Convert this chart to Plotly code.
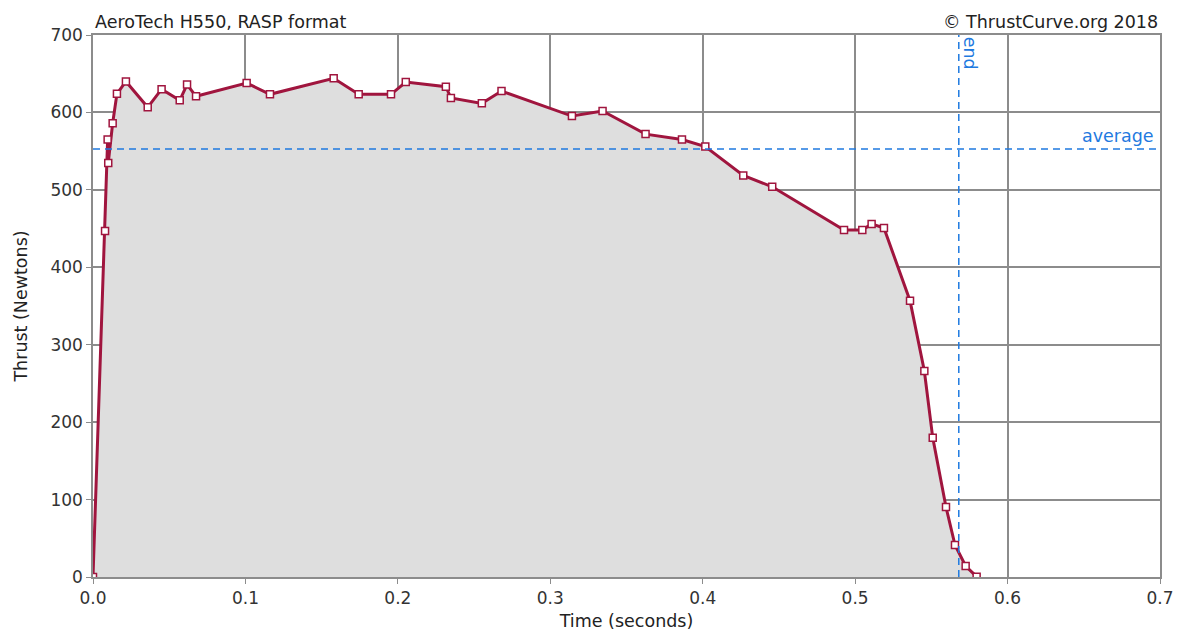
import plotly.graph_objects as go

# AeroTech H550 thrust curve (RASP data)
time_s = [0.0, 0.0079, 0.0096, 0.0100, 0.0129, 0.0157, 0.0216, 0.0359, 0.0450,
          0.0569, 0.0617, 0.0676, 0.1008, 0.1161, 0.1579, 0.1743, 0.1955,
          0.2052, 0.2315, 0.2348, 0.2551, 0.2680, 0.3142, 0.3343, 0.3625,
          0.3864, 0.4017, 0.4266, 0.4456, 0.4927, 0.5047, 0.5108, 0.5189,
          0.5360, 0.5454, 0.5509, 0.5596, 0.5655, 0.5725, 0.5797]
thrust_n = [0.0, 446.9, 565.0, 534.7, 586.0, 624.0, 640.0, 606.6, 630.0,
            615.6, 636.0, 620.8, 638.0, 623.4, 644.0, 623.4, 623.4,
            639.3, 633.2, 618.6, 611.7, 627.6, 595.3, 601.8, 572.0,
            565.0, 556.0, 518.7, 504.0, 448.0, 448.0, 456.0, 450.7,
            356.9, 266.0, 180.0, 90.4, 41.3, 14.2, 0.4]

average_thrust = 552.8
burn_end = 0.568

x_ticks = [0.0, 0.1, 0.2, 0.3, 0.4, 0.5, 0.6, 0.7]
y_ticks = [0, 100, 200, 300, 400, 500, 600, 700]

line_color = "#a0153e"
blue = "#1f7ae0"
grid = "#8c8c8c"
font_family = "DejaVu Sans"
text_size = 17.5

fig = go.Figure()
fig.add_trace(go.Scatter(
    x=time_s, y=thrust_n, mode="lines+markers",
    fill="tozeroy", fillcolor="#dedede",
    line=dict(color=line_color, width=3),
    marker=dict(symbol="square", size=7, color="white",
                line=dict(color=line_color, width=1.5)),
    hoverinfo="x+y", showlegend=False,
))

# average thrust and burn end markers
fig.add_shape(type="line", xref="paper", yref="y", x0=0, x1=1,
              y0=average_thrust, y1=average_thrust,
              line=dict(color=blue, width=1.5, dash="7px,5px"))
fig.add_shape(type="line", xref="x", yref="paper", x0=burn_end, x1=burn_end,
              y0=0, y1=1, line=dict(color=blue, width=1.5, dash="7px,5px"))

fig.add_annotation(x=1, xref="paper", y=average_thrust, yref="y",
                   text="average", showarrow=False, xanchor="right",
                   yanchor="bottom", xshift=-4, yshift=1,
                   font=dict(color=blue, size=text_size, family=font_family))
fig.add_annotation(x=burn_end, xref="x", y=1, yref="paper",
                   text="end", showarrow=False, textangle=90,
                   xanchor="left", yanchor="top", xshift=0, yshift=0,
                   font=dict(color=blue, size=text_size, family=font_family))

fig.add_annotation(x=0, xref="paper", y=1, yref="paper",
                   text="AeroTech H550, RASP format", showarrow=False,
                   xanchor="left", yanchor="bottom", yshift=1,
                   font=dict(color="#222", size=text_size, family=font_family))
fig.add_annotation(x=1, xref="paper", y=1, yref="paper",
                   text="© ThrustCurve.org 2018", showarrow=False,
                   xanchor="right", yanchor="bottom", yshift=1,
                   font=dict(color="#222", size=text_size, family=font_family))

axis_common = dict(
    showgrid=True, gridcolor=grid, gridwidth=1.5,
    showline=True, linecolor=grid, linewidth=1.5, mirror=True,
    ticks="outside", ticklen=5, tickcolor=grid,
    zeroline=False, tickfont=dict(size=17, color="#333", family=font_family),
)

fig.update_xaxes(range=[0, 0.7], tickvals=x_ticks,
                 ticktext=[f"{v:.1f}" for v in x_ticks],
                 title=dict(text="Time (seconds)", standoff=8,
                            font=dict(size=text_size, color="#222", family=font_family)),
                 **axis_common)
fig.update_yaxes(range=[0, 700], tickvals=y_ticks,
                 title=dict(text="Thrust (Newtons)", standoff=18,
                            font=dict(size=text_size, color="#222", family=font_family)),
                 **axis_common)

fig.update_layout(
    width=1185, height=639,
    margin=dict(l=93, r=25, t=35, b=62),
    paper_bgcolor="white", plot_bgcolor="white",
    font=dict(family=font_family),
)

fig.write_html("out.html")
